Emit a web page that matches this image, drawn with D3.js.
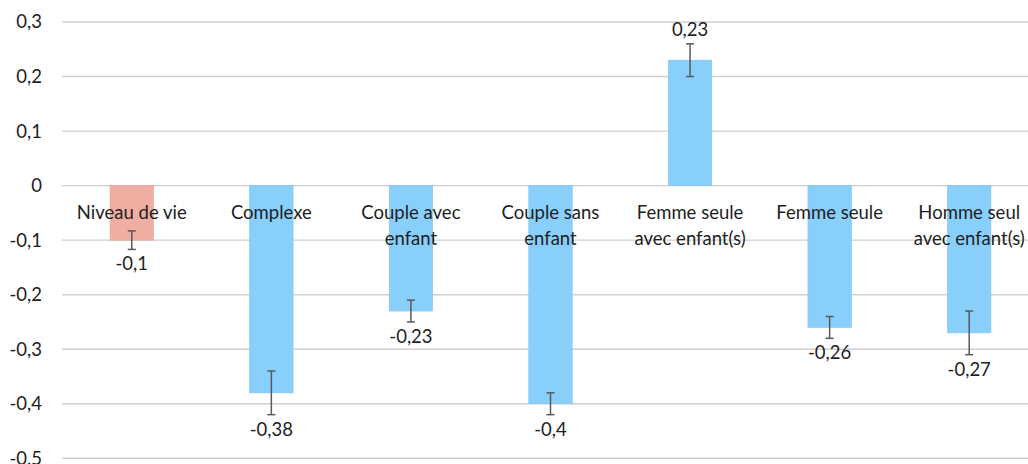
<!DOCTYPE html>
<html><head><meta charset="utf-8">
<script src="https://cdn.jsdelivr.net/npm/d3@7"></script>
<style>body{margin:0;background:#fff}svg{display:block}text{font-family:Lato,"Open Sans",sans-serif;fill:#1e1e1e}</style>
</head><body><svg id="c" width="1028" height="464"></svg>
<script>
const categories = [["Niveau de vie"],["Complexe"],["Couple avec","enfant"],["Couple sans","enfant"],["Femme seule","avec enfant(s)"],["Femme seule"],["Homme seul","avec enfant(s)"]];
const values = [-0.1,-0.38,-0.23,-0.4,0.23,-0.26,-0.27];
const errors = [0.017,0.04,0.02,0.02,0.03,0.02,0.04];
const colors = ["#F0ADA1","#88CFFC","#88CFFC","#88CFFC","#88CFFC","#88CFFC","#88CFFC"];
const tickValues = [0.3,0.2,0.1,0,-0.1,-0.2,-0.3,-0.4,-0.5];

const svg = d3.select("#c");
const y = d3.scaleLinear().domain([-0.5,0.3]).range([458.3,22]);
const x = d3.scaleBand().domain(d3.range(categories.length)).range([62,1039]).padding(0);
const bw = x.bandwidth()*0.311;
const fmt = v => d3.format(".2~f")(v).replace(".",",").replace("\u2212","-");
const fs = 18.5;

svg.append("g").selectAll("line").data(tickValues).join("line")
  .attr("x1",62).attr("x2",1039).attr("y1",d=>y(d)).attr("y2",d=>y(d))
  .attr("stroke","#cfcfcf").attr("stroke-width",1.4);
svg.append("g").selectAll("text").data(tickValues).join("text")
  .attr("x",42).attr("y",d=>y(d)).attr("dy","0.35em").attr("text-anchor","end")
  .attr("font-size",fs).text(d=>fmt(d));
svg.append("g").selectAll("rect").data(values).join("rect")
  .attr("x",(d,i)=>x(i)+x.bandwidth()/2-bw/2).attr("width",bw)
  .attr("y",d=>y(Math.max(0,d))).attr("height",d=>Math.abs(y(d)-y(0)))
  .attr("fill",(d,i)=>colors[i]).attr("stroke",(d,i)=>i===0?"#e8a397":"#7fc3ee").attr("stroke-width",0.6);
const eg = svg.append("g").attr("stroke","#595959").attr("stroke-width",1.5);
values.forEach((v,i)=>{
  const cx = x(i)+x.bandwidth()/2, y1=y(v+errors[i]), y2=y(v-errors[i]);
  eg.append("line").attr("x1",cx).attr("x2",cx).attr("y1",y1).attr("y2",y2);
  eg.append("line").attr("x1",cx-4).attr("x2",cx+4).attr("y1",y1).attr("y2",y1);
  eg.append("line").attr("x1",cx-4).attr("x2",cx+4).attr("y1",y2).attr("y2",y2);
});
svg.append("g").selectAll("text").data(values).join("text")
  .attr("x",(d,i)=>x(i)+x.bandwidth()/2)
  .attr("y",(d,i)=> d<0 ? y(d-errors[i])+21 : y(d+errors[i])-8)
  .attr("text-anchor","middle").attr("font-size",fs).text(d=>fmt(d));
const cg = svg.append("g");
categories.forEach((lines,i)=>{
  const t = cg.append("text").attr("text-anchor","middle").attr("font-size",fs);
  lines.forEach((l,j)=>{
    t.append("tspan").attr("x",x(i)+x.bandwidth()/2).attr("y",y(0)+33+j*26.5).text(l);
  });
});
</script></body></html>
